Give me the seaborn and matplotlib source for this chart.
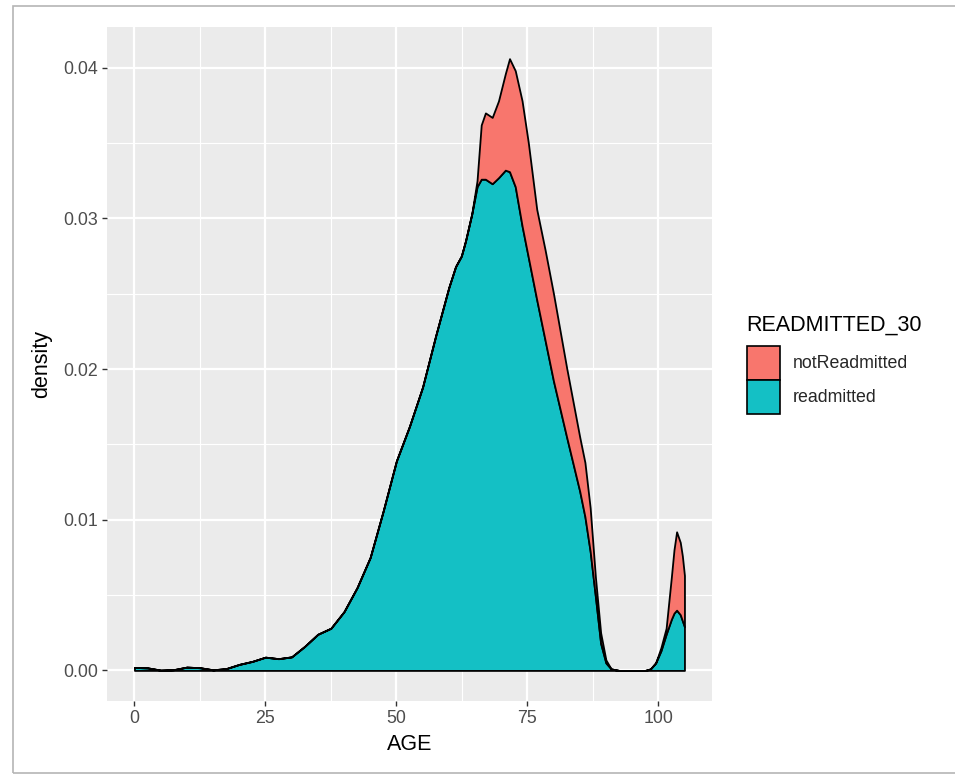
import numpy as np
import pandas as pd
import matplotlib
matplotlib.use("Agg")
import matplotlib.pyplot as plt
from matplotlib.patches import Patch, Rectangle
import seaborn as sns

# ---- Values (stacked density by age) ----
age = [0, 2.5, 5, 7.5, 10, 12.5, 15, 17.5, 20, 22.5, 25, 27.5, 30, 32.5, 35, 37.5,
       40, 42.5, 45, 47.5, 50, 52.5, 55, 57.5, 60, 61.3, 62.4, 63.2, 64.4, 65.4,
       66.2, 67, 68.3, 69.5, 70.8, 71.6, 72.7, 74, 75.2, 76.8, 78.4, 80, 82.5, 85,
       86, 87, 88, 89, 90, 91, 92.5, 95, 97.5, 98.5, 99.5, 100.5, 101.5, 102.5,
       103, 103.5, 104.2, 104.6, 105]

# bottom layer (teal)
readmitted = [0.0002, 0.00017, 0.00002, 0.00005, 0.00022, 0.00018, 0.00004, 0.00012,
              0.0004, 0.0006, 0.00088, 0.00078, 0.0009, 0.0016, 0.0024, 0.0028,
              0.0039, 0.0055, 0.0075, 0.0106, 0.0139, 0.0162, 0.0188, 0.0222,
              0.0254, 0.0268, 0.0275, 0.0285, 0.0303, 0.0321, 0.0326, 0.0326,
              0.0323, 0.0327, 0.0332, 0.0331, 0.0321, 0.0295, 0.0274, 0.0246,
              0.0219, 0.0192, 0.0155, 0.0119, 0.0102, 0.0079, 0.0049, 0.0018,
              0.0005, 0.0001, 0, 0, 0, 0.0001, 0.0005, 0.0013, 0.0024, 0.0034,
              0.0038, 0.0040, 0.0037, 0.0033, 0.0029]

# top layer thickness (red), stacked on readmitted
not_readmitted = [0, 0, 0, 0, 0, 0, 0, 0, 0, 0, 0, 0, 0, 0, 0, 0,
                  0, 0, 0, 0, 0, 0, 0, 0, 0, 0, 0, 0, 0, 0.0004,
                  0.0036, 0.0044, 0.0044, 0.0051, 0.0064, 0.0075, 0.0077, 0.0083,
                  0.0076, 0.0060, 0.0060, 0.0058, 0.0046, 0.0036, 0.0036, 0.0029,
                  0.0013, 0.0007, 0.0002, 0, 0, 0, 0, 0, 0, 0.0002, 0.0004, 0.0028,
                  0.0042, 0.0052, 0.0048, 0.0043, 0.0034]

groups = ["notReadmitted", "readmitted"]
colors = {"notReadmitted": "#F8766D", "readmitted": "#14C0C5"}

df = pd.DataFrame({"AGE": age, "readmitted": readmitted, "notReadmitted": not_readmitted})
df["top"] = df["readmitted"] + df["notReadmitted"]

# ---- ggplot-like theme ----
sns.set_theme(style="darkgrid", rc={
    "axes.facecolor": "#EBEBEB",
    "grid.color": "white",
    "axes.edgecolor": "#EBEBEB",
})
plt.rcParams["font.family"] = ["Liberation Sans", "DejaVu Sans"]

fig = plt.figure(figsize=(9.55, 7.74), dpi=100)
ax = fig.add_axes([0.1120, 0.0943, 0.6335, 0.8708])

low = ax.fill_between(df["AGE"], 0, df["readmitted"], facecolor=colors["readmitted"],
                      edgecolor="black", linewidth=1.3, zorder=3)
up = ax.fill_between(df["AGE"], df["readmitted"], df["top"], facecolor=colors["notReadmitted"],
                     edgecolor="black", linewidth=1.3, zorder=3)
for pc in (low, up):
    pc.set_joinstyle("round")

ax.set_xlim(-5.25, 110.25)
ax.set_ylim(-0.00203, 0.0427)
ax.set_xticks([0, 25, 50, 75, 100])
ax.set_xticks([12.5, 37.5, 62.5, 87.5], minor=True)
ax.set_yticks([0, 0.01, 0.02, 0.03, 0.04])
ax.set_yticklabels(["0.00", "0.01", "0.02", "0.03", "0.04"])
ax.set_yticks([0.005, 0.015, 0.025, 0.035], minor=True)
ax.grid(which="major", color="white", linewidth=1.6)
ax.grid(which="minor", color="white", linewidth=0.8)
for s in ax.spines.values():
    s.set_visible(False)

ax.tick_params(axis="both", which="major", length=3.5, width=1.0, color="#333333",
               labelcolor="#4D4D4D", labelsize=12.8, pad=3, bottom=True, left=True)
ax.tick_params(axis="both", which="minor", length=0)

ax.set_xlabel("AGE", fontsize=15.5, color="black", labelpad=5)
ax.set_ylabel("density", fontsize=15.5, color="black", labelpad=8)

# ---- legend ----
fig.text(746.5 / 955, 1 - 325 / 774, "READMITTED_30", fontsize=15.5, color="black",
         ha="left", va="center")
handles = [Patch(facecolor=colors[g], edgecolor="black", linewidth=1.2) for g in groups]
leg = fig.legend(handles, groups, loc="upper left",
                 bbox_to_anchor=(746.5 / 955, 1 - 346 / 774), frameon=False,
                 fontsize=12.8, handlelength=1.9, handleheight=2.57,
                 labelspacing=0.0, handletextpad=0.72,
                 borderpad=0.0, borderaxespad=0.0)

# screenshot frame
fig.add_artist(Rectangle((13 / 955, 1 / 774), 1.0, 767 / 774, transform=fig.transFigure,
                         fill=False, edgecolor="#B5B5B5", linewidth=1.2))

fig.savefig("out.png", dpi=100)
